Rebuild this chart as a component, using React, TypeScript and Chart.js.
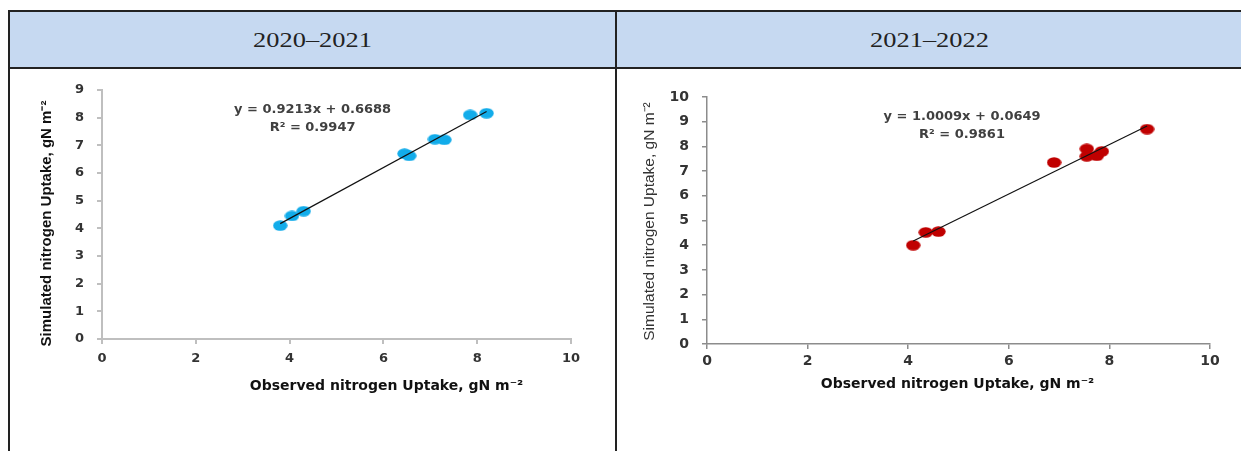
import React, { useEffect, useRef } from 'react';
import { Chart, registerables } from 'chart.js';

Chart.register(...registerables);

// ---------- data ----------
const HEADERS = ['2020–2021', '2021–2022'];

const X_TICKS = [0, 2, 4, 6, 8, 10];
const Y_TICKS_A = [0, 1, 2, 3, 4, 5, 6, 7, 8, 9];
const Y_TICKS_B = [0, 1, 2, 3, 4, 5, 6, 7, 8, 9, 10];

// 2020–2021 observed vs simulated N uptake
const OBS_A = [3.8, 4.05, 4.3, 6.45, 6.55, 7.1, 7.3, 7.85, 8.2];
const SIM_A = [4.1, 4.45, 4.62, 6.7, 6.62, 7.22, 7.2, 8.1, 8.16];
const SLOPE_A = 0.9213;
const INTERCEPT_A = 0.6688;
const R2_A = 0.9947;

// 2021–2022 observed vs simulated N uptake
const OBS_B = [4.1, 4.35, 4.6, 6.9, 7.55, 7.55, 7.75, 7.85, 8.75];
const SIM_B = [4.0, 4.52, 4.55, 7.35, 7.9, 7.6, 7.62, 7.8, 8.7];
const SLOPE_B = 1.0009;
const INTERCEPT_B = 0.0649;
const R2_B = 0.9861;

const X_TITLE_A = 'Observed nitrogen Uptake, gN m⁻²';
const Y_TITLE_A = 'Simulated nitrogen Uptake, gN m⁻²';
const X_TITLE_B = 'Observed nitrogen Uptake, gN m⁻²';
const Y_TITLE_B = 'Simulated nitrogen Uptake, gN m⁻²';

// ---------- helpers ----------
function makeEllipse(color: string, w: number, h: number) {
  const c = document.createElement('canvas');
  c.width = w;
  c.height = h;
  const g = c.getContext('2d')!;
  g.fillStyle = color;
  g.beginPath();
  g.ellipse(w / 2, h / 2, w / 2 - 0.3, h / 2 - 0.3, 0, 0, Math.PI * 2);
  g.fill();
  return c;
}

const textPlugin = {
  id: 'panelText',
  afterDraw(chart: any, _args: any, opts: any) {
    const { ctx, chartArea: a, scales } = chart;
    ctx.save();
    ctx.textAlign = 'center';
    ctx.textBaseline = 'middle';
    // regression equation
    ctx.fillStyle = opts.eqColor;
    ctx.font = opts.eqFont;
    const ex = scales.x.getPixelForValue(opts.eqX);
    const ey = scales.y.getPixelForValue(opts.eqY);
    const lines: string[] = opts.eqLines;
    for (let i = 0; i < lines.length; i++) ctx.fillText(lines[i], ex, ey + i * opts.eqGap);
    // x title
    ctx.fillStyle = opts.xTitleColor;
    ctx.font = opts.xTitleFont;
    ctx.fillText(opts.xTitle, (a.left + a.right) / 2 + opts.xTitleDx, a.bottom + opts.xTitleDy);
    // y title
    ctx.fillStyle = opts.yTitleColor;
    ctx.font = opts.yTitleFont;
    ctx.translate(a.left + opts.yTitleDx, (a.top + a.bottom) / 2 + opts.yTitleDy);
    ctx.rotate(-Math.PI / 2);
    ctx.fillText(opts.yTitle, 0, 0);
    ctx.restore();
  },
};

type Panel = {
  obs: number[];
  sim: number[];
  slope: number;
  intercept: number;
  r2: number;
  yTicks: number[];
  color: string;
  left: number;
  top: number;
  width: number;
  height: number;
  padTop: number;
  padRight: number;
  yAxisW: number;
  xAxisH: number;
  axisColor: string;
  axisWidth: number;
  tickSize: number;
  tickPadY: number;
  tickPadX: number;
  eqX: number;
  eqY: number;
  xTitle: string;
  yTitle: string;
  xTitleFont: string;
  yTitleFont: string;
  yTitleColor: string;
  xTitleDx: number;
  xTitleDy: number;
  yTitleDx: number;
  yTitleDy: number;
};

function ScatterPanel({ p }: { p: Panel }) {
  const ref = useRef<HTMLCanvasElement>(null);
  useEffect(() => {
    const canvas = ref.current!;
    const pts = p.obs.map((x, i) => ({ x, y: p.sim[i] }));
    const xMin = Math.min(...p.obs);
    const xMax = Math.max(...p.obs);
    const fit = [
      { x: xMin, y: p.slope * xMin + p.intercept },
      { x: xMax, y: p.slope * xMax + p.intercept },
    ];
    const tickFont = { family: '"DejaVu Sans", sans-serif', size: p.tickSize, weight: 'bold' as const };
    const yMax = p.yTicks[p.yTicks.length - 1];
    const chart = new Chart(canvas, {
      type: 'scatter',
      data: {
        datasets: [
          {
            data: fit,
            showLine: true,
            borderColor: '#111',
            borderWidth: 1.2,
            pointRadius: 0,
            order: 0,
          } as any,
          {
            data: pts,
            pointStyle: makeEllipse(p.color, 15, 11) as any,
            pointRadius: 6,
            backgroundColor: p.color,
            borderColor: p.color,
            order: 1,
          },
        ],
      },
      options: {
        responsive: false,
        animation: false,
        devicePixelRatio: 1,
        events: [],
        layout: { padding: { left: 0, top: p.padTop, right: p.padRight, bottom: 0 } },
        plugins: {
          legend: { display: false },
          tooltip: { enabled: false },
          panelText: {
            eqColor: '#404040',
            eqFont: 'bold 13px "DejaVu Sans", sans-serif',
            eqX: p.eqX,
            eqY: p.eqY,
            eqGap: 18,
            eqLines: [
              `y = ${p.slope.toFixed(4)}x + ${p.intercept.toFixed(4)}`,
              `R² = ${p.r2.toFixed(4)}`,
            ],
            xTitle: p.xTitle,
            xTitleFont: p.xTitleFont,
            xTitleColor: '#111',
            xTitleDx: p.xTitleDx,
            xTitleDy: p.xTitleDy,
            yTitle: p.yTitle,
            yTitleFont: p.yTitleFont,
            yTitleColor: p.yTitleColor,
            yTitleDx: p.yTitleDx,
            yTitleDy: p.yTitleDy,
          },
        } as any,
        scales: {
          x: {
            type: 'linear',
            min: X_TICKS[0],
            max: X_TICKS[X_TICKS.length - 1],
            afterBuildTicks: (s: any) => {
              s.ticks = X_TICKS.map((v) => ({ value: v }));
            },
            afterFit: (s: any) => {
              s.height = p.xAxisH;
            },
            grid: {
              drawOnChartArea: false,
              drawTicks: true,
              tickLength: 5,
              color: p.axisColor,
              lineWidth: p.axisWidth,
            },
            border: { display: true, color: p.axisColor, width: p.axisWidth },
            ticks: { font: tickFont, color: '#333', padding: p.tickPadX, maxRotation: 0, autoSkip: false },
          },
          y: {
            type: 'linear',
            min: p.yTicks[0],
            max: yMax,
            afterBuildTicks: (s: any) => {
              s.ticks = p.yTicks.map((v) => ({ value: v }));
            },
            afterFit: (s: any) => {
              s.width = p.yAxisW;
            },
            grid: {
              drawOnChartArea: false,
              drawTicks: true,
              tickLength: 5,
              color: p.axisColor,
              lineWidth: p.axisWidth,
            },
            border: { display: true, color: p.axisColor, width: p.axisWidth },
            ticks: { font: tickFont, color: '#333', padding: p.tickPadY, autoSkip: false },
          },
        },
      },
      plugins: [textPlugin as any],
    });
    return () => chart.destroy();
  }, []);
  return (
    <canvas
      ref={ref}
      width={p.width}
      height={p.height}
      style={{ position: 'absolute', left: p.left, top: p.top, width: p.width, height: p.height }}
    />
  );
}

const PANEL_A: Panel = {
  obs: OBS_A,
  sim: SIM_A,
  slope: SLOPE_A,
  intercept: INTERCEPT_A,
  r2: R2_A,
  yTicks: Y_TICKS_A,
  color: '#12ACEA',
  left: 10,
  top: 69,
  width: 605,
  height: 382,
  padTop: 21,
  padRight: 44,
  yAxisW: 92,
  xAxisH: 112,
  axisColor: '#BFBFBF',
  axisWidth: 2,
  tickSize: 13,
  tickPadY: 13,
  tickPadX: 7,
  eqX: 4.49,
  eqY: 8.28,
  xTitle: X_TITLE_A,
  yTitle: Y_TITLE_A,
  xTitleFont: 'bold 14px "DejaVu Sans", sans-serif',
  yTitleFont: 'bold 15px "Liberation Sans", Arial, sans-serif',
  yTitleColor: '#111',
  xTitleDx: 50,
  xTitleDy: 47,
  yTitleDx: -55,
  yTitleDy: 9,
};

const PANEL_B: Panel = {
  obs: OBS_B,
  sim: SIM_B,
  slope: SLOPE_B,
  intercept: INTERCEPT_B,
  r2: R2_B,
  yTicks: Y_TICKS_B,
  color: '#C00000',
  left: 617,
  top: 69,
  width: 624,
  height: 382,
  padTop: 28,
  padRight: 31,
  yAxisW: 90,
  xAxisH: 107,
  axisColor: '#8C8C8C',
  axisWidth: 1.5,
  tickSize: 14,
  tickPadY: 13,
  tickPadX: 4,
  eqX: 5.07,
  eqY: 9.2,
  xTitle: X_TITLE_B,
  yTitle: Y_TITLE_B,
  xTitleFont: 'bold 14px "DejaVu Sans", sans-serif',
  yTitleFont: '15.5px "Liberation Sans", Arial, sans-serif',
  yTitleColor: '#333',
  xTitleDx: -1,
  xTitleDy: 40,
  yTitleDx: -57,
  yTitleDy: 1,
};

const line = (left: number, top: number, width: number, height: number) => (
  <div style={{ position: 'absolute', left, top, width, height, background: '#222' }} />
);

const headerStyle = (left: number, width: number): React.CSSProperties => ({
  position: 'absolute',
  left,
  top: 12,
  width,
  height: 55,
  display: 'flex',
  alignItems: 'center',
  justifyContent: 'center',
  fontFamily: '"Liberation Serif", "Times New Roman", serif',
  fontSize: 22,
  color: '#222',
});

export default function App() {
  return (
    <div
      style={{
        position: 'fixed',
        left: 0,
        top: 0,
        width: 1241,
        height: 451,
        overflow: 'hidden',
        background: '#fff',
      }}
    >
      <div style={{ position: 'absolute', left: 9, top: 11, width: 1232, height: 57, background: '#C6D9F1' }} />
      {line(8, 10, 1233, 2)}
      {line(8, 67, 1233, 2)}
      {line(8, 10, 2, 441)}
      {line(615, 10, 2, 441)}
      <div style={headerStyle(10, 605)}>
        <span style={{ display: 'inline-block', transform: 'scaleX(1.2)' }}>{HEADERS[0]}</span>
      </div>
      <div style={headerStyle(617, 624)}>
        <span style={{ display: 'inline-block', transform: 'scaleX(1.2)' }}>{HEADERS[1]}</span>
      </div>
      <ScatterPanel p={PANEL_A} />
      <ScatterPanel p={PANEL_B} />
    </div>
  );
}
